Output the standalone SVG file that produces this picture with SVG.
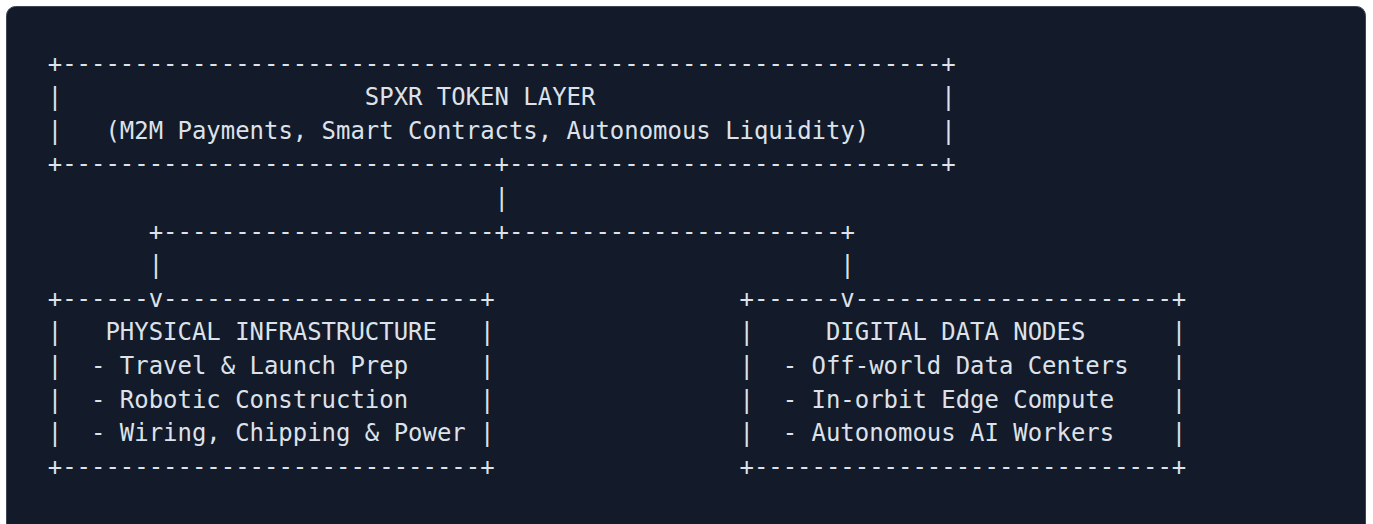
<svg xmlns="http://www.w3.org/2000/svg" width="1373" height="524" viewBox="0 0 1373 524">
  <style>
    .t { font-family: "DejaVu Sans Mono", "Liberation Mono", monospace; font-size: 23.94px; fill: #dde2ea; white-space: pre; }
  </style>
  <rect x="0" y="0" width="1373" height="524" fill="#ffffff"/>
  <rect x="6.5" y="6.5" width="1359" height="540" rx="9" ry="9" fill="#131a29" stroke="#3d4454" stroke-width="1"/>

  <g id="spxr-token-layer">
    <text class="t" x="47.8" y="71.6" xml:space="preserve">+-------------------------------------------------------------+</text>
    <text class="t" x="47.8" y="105.2">|</text>
    <text class="t" x="364.82" y="105.2" xml:space="preserve">SPXR TOKEN LAYER</text>
    <text class="t" x="941.22" y="105.2">|</text>
    <text class="t" x="47.8" y="138.8">|</text>
    <text class="t" x="105.44" y="138.8" xml:space="preserve">(M2M Payments, Smart Contracts, Autonomous Liquidity)</text>
    <text class="t" x="941.22" y="138.8">|</text>
    <text class="t" x="47.8" y="172.4" xml:space="preserve">+------------------------------+------------------------------+</text>
  </g>

  <g id="connectors">
    <text class="t" x="494.51" y="206.0">|</text>
    <text class="t" x="148.67" y="239.6" xml:space="preserve">+-----------------------+-----------------------+</text>
    <text class="t" x="148.67" y="273.2">|</text>
    <text class="t" x="840.35" y="273.2">|</text>
  </g>

  <g id="physical-infrastructure">
    <text class="t" x="47.8" y="306.8" xml:space="preserve">+------v----------------------+</text>
    <text class="t" x="47.8" y="340.4">|</text>
    <text class="t" x="105.44" y="340.4" xml:space="preserve">PHYSICAL INFRASTRUCTURE</text>
    <text class="t" x="480.1" y="340.4">|</text>
    <text class="t" x="47.8" y="374.0">|</text>
    <text class="t" x="91.03" y="374.0" xml:space="preserve">- Travel &amp; Launch Prep</text>
    <text class="t" x="480.1" y="374.0">|</text>
    <text class="t" x="47.8" y="407.6">|</text>
    <text class="t" x="91.03" y="407.6" xml:space="preserve">- Robotic Construction</text>
    <text class="t" x="480.1" y="407.6">|</text>
    <text class="t" x="47.8" y="441.2">|</text>
    <text class="t" x="91.03" y="441.2" xml:space="preserve">- Wiring, Chipping &amp; Power</text>
    <text class="t" x="480.1" y="441.2">|</text>
    <text class="t" x="47.8" y="474.8" xml:space="preserve">+-----------------------------+</text>
  </g>

  <g id="digital-data-nodes">
    <text class="t" x="739.48" y="306.8" xml:space="preserve">+------v----------------------+</text>
    <text class="t" x="739.48" y="340.4">|</text>
    <text class="t" x="825.94" y="340.4" xml:space="preserve">DIGITAL DATA NODES</text>
    <text class="t" x="1171.78" y="340.4">|</text>
    <text class="t" x="739.48" y="374.0">|</text>
    <text class="t" x="782.71" y="374.0" xml:space="preserve">- Off-world Data Centers</text>
    <text class="t" x="1171.78" y="374.0">|</text>
    <text class="t" x="739.48" y="407.6">|</text>
    <text class="t" x="782.71" y="407.6" xml:space="preserve">- In-orbit Edge Compute</text>
    <text class="t" x="1171.78" y="407.6">|</text>
    <text class="t" x="739.48" y="441.2">|</text>
    <text class="t" x="782.71" y="441.2" xml:space="preserve">- Autonomous AI Workers</text>
    <text class="t" x="1171.78" y="441.2">|</text>
    <text class="t" x="739.48" y="474.8" xml:space="preserve">+-----------------------------+</text>
  </g>
</svg>
